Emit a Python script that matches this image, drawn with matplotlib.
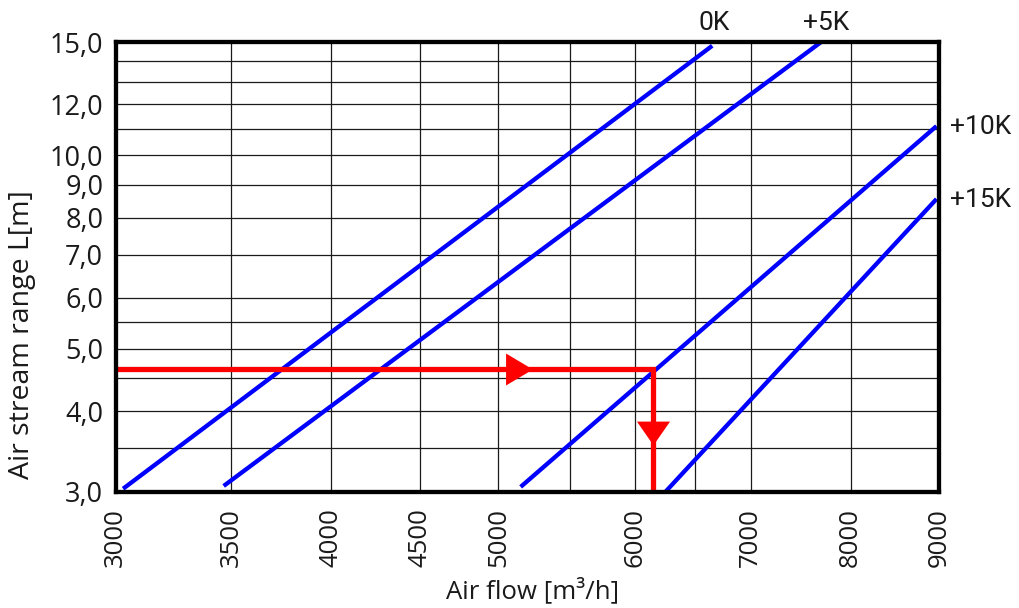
import matplotlib
matplotlib.use("Agg")
import matplotlib.pyplot as plt
from matplotlib.ticker import FixedLocator, FixedFormatter, NullFormatter

plt.rcParams['font.family'] = ['Open Sans', 'DejaVu Sans']

# ---- data ----
curve_labels = ["0K", "+5K", "+10K", "+15K"]
flow_0K = [3030, 6650]
range_0K = [3.03, 14.8]
flow_5K = [3465, 7690]
range_5K = [3.06, 15.0]
flow_10K = [5150, 8970]
range_10K = [3.05, 11.1]
flow_15K = [6250, 8970]
range_15K = [3.0, 8.55]

example_flow = 6145
example_range = 4.65
arrow_h_flow = 5139
arrow_v_range = 3.70

x_major = [3000, 3500, 4000, 4500, 5000, 6000, 7000, 8000, 9000]
x_major_labels = ["3000", "3500", "4000", "4500", "5000", "6000", "7000", "8000", "9000"]
x_minor = [5500, 6500]
y_major = [3, 4, 5, 6, 7, 8, 9, 10, 12, 15]
y_major_labels = ["3,0", "4,0", "5,0", "6,0", "7,0", "8,0", "9,0", "10,0", "12,0", "15,0"]
y_minor = [3.5, 4.5, 5.5, 11, 13, 14]

# ---- figure ----
fig = plt.figure(figsize=(10.19, 6.08), dpi=100)
ax = fig.add_axes([0.1135, 0.1916, 0.808, 0.7393])
ax.set_xscale('log')
ax.set_yscale('log')
ax.set_xlim(3000, 9000)
ax.set_ylim(3, 15)

ax.xaxis.set_major_locator(FixedLocator(x_major))
ax.xaxis.set_major_formatter(FixedFormatter(x_major_labels))
ax.xaxis.set_minor_locator(FixedLocator(x_minor))
ax.xaxis.set_minor_formatter(NullFormatter())
ax.yaxis.set_major_locator(FixedLocator(y_major))
ax.yaxis.set_major_formatter(FixedFormatter(y_major_labels))
ax.yaxis.set_minor_locator(FixedLocator(y_minor))
ax.yaxis.set_minor_formatter(NullFormatter())

ax.tick_params(axis='both', which='both', length=0)
ax.tick_params(axis='x', which='major', labelsize=18.5, labelrotation=90, pad=12, colors='#1a1a1a')
ax.tick_params(axis='y', which='major', labelsize=19.5, pad=9, colors='#1a1a1a')
ax.grid(True, which='both', color='#1a1a1a', linewidth=0.9, zorder=1)
ax.set_axisbelow(True)

for s in ax.spines.values():
    s.set_linewidth(3.1)
    s.set_color('black')
    s.set_zorder(5)

blue = '#0000ff'
series = [(flow_0K, range_0K), (flow_5K, range_5K), (flow_10K, range_10K), (flow_15K, range_15K)]
for fl, rg in series:
    ax.plot(fl, rg, color=blue, linewidth=3.1, solid_capstyle='butt', zorder=3, clip_on=False)

# curve labels
lab_font = ['Roboto', 'DejaVu Sans']
ax.annotate(curve_labels[0], (flow_0K[1], range_0K[1]), xytext=(1.5, 16.5), textcoords='offset points',
            ha='center', va='center', fontsize=19, family=lab_font, color='#1a1a1a')
ax.annotate(curve_labels[1], (flow_5K[1], range_5K[1]), xytext=(3.6, 13.7), textcoords='offset points',
            ha='center', va='center', fontsize=19, family=lab_font, color='#1a1a1a')
ax.annotate(curve_labels[2], (flow_10K[1], range_10K[1]), xytext=(10, -0.7), textcoords='offset points',
            ha='left', va='center', fontsize=19, family=lab_font, color='#1a1a1a')
ax.annotate(curve_labels[3], (flow_15K[1], range_15K[1]), xytext=(10, -0.7), textcoords='offset points',
            ha='left', va='center', fontsize=19, family=lab_font, color='#1a1a1a')

# example reading (red)
red = '#ff0000'
ax.plot([3000, example_flow, example_flow], [example_range, example_range, 3.0],
        color=red, linewidth=3.8, solid_joinstyle='miter', solid_capstyle='butt', zorder=4, clip_on=False)
right_tri = [(-0.42, 0.5), (0.42, 0.0), (-0.42, -0.5)]
down_tri = [(-0.5, 0.36), (0.5, 0.36), (0.0, -0.36)]
ax.plot([arrow_h_flow], [example_range], marker=right_tri, markersize=23, color=red,
        markeredgewidth=0, linestyle='none', zorder=4)
ax.plot([example_flow], [arrow_v_range], marker=down_tri, markersize=23.8, color=red,
        markeredgewidth=0, linestyle='none', zorder=4)

fig.text(0.5228, 1 - 591 / 608, "Air flow [m³/h]", ha='center', va='center', fontsize=18.5, color='#1a1a1a')
fig.text(22 / 1019, 1 - 335 / 608, "Air stream range L[m]", ha='center', va='center', rotation=90,
         fontsize=20.5, color='#1a1a1a')

fig.savefig('out.png', dpi=100)
